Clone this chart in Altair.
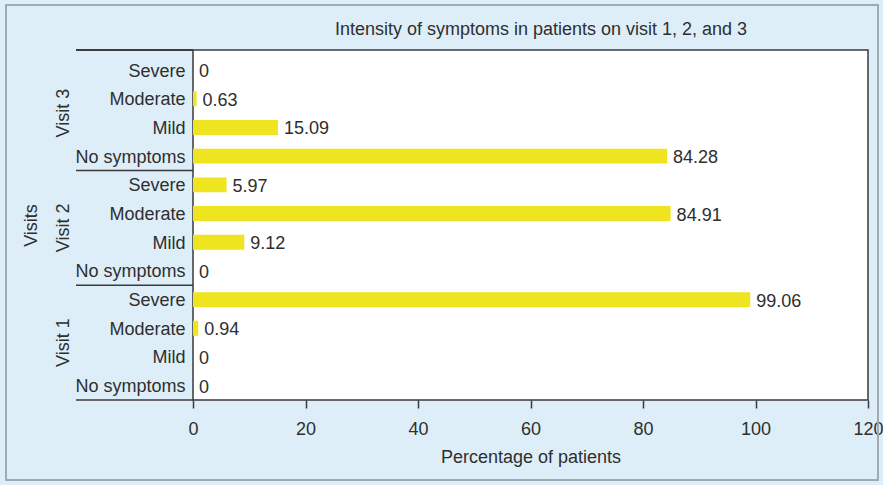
import altair as alt
import pandas as pd

# Symptom intensity (% of patients) per visit, ordered bottom-to-top
levels = ["No symptoms", "Mild", "Moderate", "Severe"]
visits = ["Visit 1", "Visit 2", "Visit 3"]
visit1 = [0, 0, 0.94, 99.06]
visit2 = [0, 9.12, 84.91, 5.97]
visit3 = [84.28, 15.09, 0.63, 0]
x_ticks = [0, 20, 40, 60, 80, 100, 120]
title_text = "Intensity of symptoms in patients on visit 1, 2, and 3"

FONT = "Liberation Sans"
FS = 18
TEXT = "#2e2e2e"
LINE = "#3a3a3a"
YELLOW = "#eee41f"
PANEL = "#ddeef9"

rows = []
for v, (name, vals) in enumerate(zip(visits, [visit1, visit2, visit3])):
    for k, (lvl, val) in enumerate(zip(levels, vals)):
        rows.append({"visit": name, "level": lvl, "row": v * 4 + k, "pct": val})
df = pd.DataFrame(rows)
groups = pd.DataFrame({"visit": visits, "start": [0, 4, 8]})
title_df = pd.DataFrame({"title": [title_text]})

n_rows = len(levels) * len(visits)
xscale = alt.Scale(domain=[0, 120], nice=False, zero=True)
yscale = alt.Scale(domain=[0, n_rows + 0.2], nice=False, zero=False)

level_list = "[" + ",".join(f"'{l}'" for l in levels) + "]"
yaxis = alt.Axis(
    values=[r + 0.5 for r in range(n_rows)],
    labelExpr=f"{level_list}[floor(datum.value) % {len(levels)}]",
    labelOverlap=False, labelBound=False,
    ticks=False, domain=False, grid=False,
    labelFont=FONT, labelFontSize=FS, labelColor=TEXT, labelPadding=8,
    labelBaseline="middle", labelOffset=1,
    title="Visits", titleFont=FONT, titleFontSize=FS, titleColor=TEXT,
    titleFontWeight="normal", titleAngle=270, titleX=-162, titleY=175,
    titleAlign="center", titleBaseline="middle",
)
xaxis = alt.Axis(
    values=x_ticks, grid=False, domain=False, labelOverlap=False,
    labelFlush=False,
    ticks=True, tickSize=8, tickColor=LINE, tickWidth=1.5,
    labelFont=FONT, labelFontSize=FS, labelColor=TEXT, labelPadding=12,
    title="Percentage of patients", titleFont=FONT, titleFontSize=FS,
    titleColor=TEXT, titleFontWeight="normal", titlePadding=10,
)

base = alt.Chart(df)

bars = base.transform_calculate(
    lo="datum.row + 0.24", hi="datum.row + 0.76"
).mark_bar(color=YELLOW).encode(
    x=alt.X("pct:Q", scale=xscale, axis=xaxis),
    x2=alt.datum(0),
    y=alt.Y("lo:Q", scale=yscale, axis=yaxis),
    y2="hi:Q",
)

values = base.transform_calculate(mid="datum.row + 0.5").mark_text(
    align="left", baseline="middle", dx=6, dy=2,
    font=FONT, fontSize=FS, color=TEXT,
).encode(
    x=alt.X("pct:Q", scale=xscale, axis=xaxis),
    y=alt.Y("mid:Q", scale=yscale, axis=yaxis),
    text=alt.Text("pct:Q", format=".2~f"),
)

# Group separators extending left of the plot frame
separators = alt.Chart(groups).mark_rule(color=LINE, strokeWidth=1.5).encode(
    y=alt.Y("start:Q", scale=yscale, axis=yaxis),
    x=alt.value(-117), x2=alt.value(0),
)
top_line = alt.Chart(groups).mark_rule(color=LINE, strokeWidth=1.5).encode(
    y=alt.value(0), x=alt.value(-117), x2=alt.value(0),
)

visit_labels = alt.Chart(groups).transform_calculate(
    mid=f"datum.start + {len(levels) / 2}"
).mark_text(
    angle=270, align="center", baseline="middle",
    font=FONT, fontSize=FS, color=TEXT,
).encode(
    y=alt.Y("mid:Q", scale=yscale, axis=yaxis),
    x=alt.value(-129),
    text="visit:N",
)

# Chart heading, placed in the strip above the plot frame
heading = alt.Chart(title_df).mark_text(
    align="center", baseline="middle",
    font=FONT, fontSize=FS, color=TEXT,
).encode(
    x=alt.value(348), y=alt.value(-20), text="title:N",
)

frame = alt.Chart(groups).mark_rect(
    fill="transparent", stroke="#9eabb3", strokeWidth=1.5
).encode(
    x=alt.value(-187), x2=alt.value(685), y=alt.value(-45), y2=alt.value(430)
)

chart = alt.layer(
    frame, bars, values, separators, top_line, visit_labels, heading
).properties(
    width=675, height=350,
    autosize=alt.AutoSizeParams(type="none"),
    padding={"left": 193, "top": 50, "right": 15, "bottom": 85},
    background=PANEL,
).configure_view(
    stroke=LINE, strokeWidth=1.5, fill="white"
)

chart.save("out.html", embed_options={"renderer": "svg", "actions": False})
